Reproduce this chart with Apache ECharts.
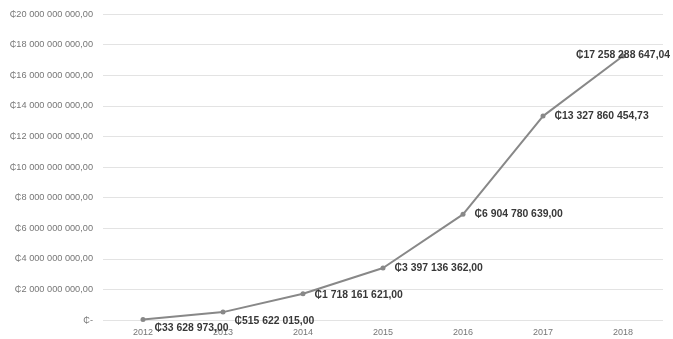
<!DOCTYPE html>
<html>
<head>
<meta charset="UTF-8">
<title>Chart</title>
<script src="https://cdn.jsdelivr.net/npm/echarts@6/dist/echarts.min.js"></script>
</head>
<body style="margin:0;background:#fff;">
<div id="main" style="width:673px;height:339px;"></div>
<script type="text/javascript">
var years = ['2012', '2013', '2014', '2015', '2016', '2017', '2018'];
var amounts = [33628973.00, 515622015.00, 1718161621.00, 3397136362.00, 6904780639.00, 13327860454.73, 17258288647.04];
// vertical shift of each point label (px)
var labelShift = [9, 9, 1, 0, 0, 0, 0];

function colones(v) {
	var parts = v.toFixed(2).split('.');
	var whole = parts[0].replace(/\B(?=(\d{3})+(?!\d))/g, ' ');
	return '\u20B5' + whole + ',' + parts[1];
}

var myChart = echarts.init(document.getElementById('main'));

var points = amounts.map(function(v, i) {
	var item = { value: v, label: { offset: [0, labelShift[i]] } };
	if (i === amounts.length - 1) {
		item.label = { position: 'inside', offset: [0, -1] };
	}
	return item;
});

var option = {
	backgroundColor: '#ffffff',
	animation: false,
	grid: { left: 103, right: 10, top: 14, bottom: 19 },
	xAxis: {
		type: 'category',
		data: years,
		boundaryGap: true,
		axisLine: { show: false },
		axisTick: { show: false },
		axisLabel: { color: '#767676', fontSize: 9, fontFamily: 'Liberation Sans', margin: 8 }
	},
	yAxis: {
		type: 'value',
		min: 0,
		max: 20000000000,
		interval: 2000000000,
		axisLine: { show: false },
		axisTick: { show: false },
		splitLine: { lineStyle: { color: '#e3e3e3', width: 1 } },
		axisLabel: {
			color: '#767676',
			fontSize: 9.2,
			fontFamily: 'Liberation Sans',
			margin: 10,
			formatter: function(v) {
				return v === 0 ? '\u20B5-' : colones(v);
			}
		}
	},
	series: [{
		type: 'line',
		data: points,
		symbol: 'circle',
		symbolSize: 5,
		lineStyle: { color: '#888888', width: 2 },
		itemStyle: { color: '#888888' },
		label: {
			show: true,
			position: 'right',
			distance: 9,
			color: '#383838',
			fontSize: 10.4,
			fontWeight: 'bold',
			fontFamily: 'Liberation Sans',
			formatter: function(p) { return colones(p.value); }
		}
	}]
};
myChart.setOption(option);
</script>
</body>
</html>
